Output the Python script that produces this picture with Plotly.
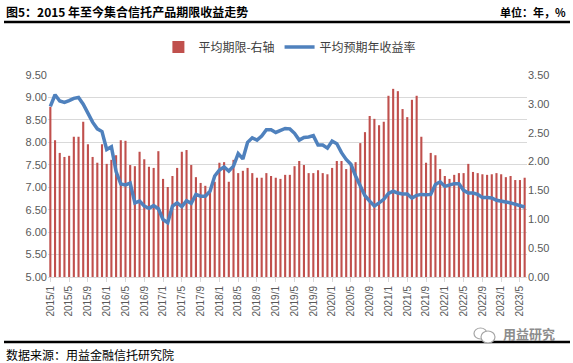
import plotly.graph_objects as go

# ---------------- data ----------------
start_year, start_month, n_months = 2015, 1, 102
months = []
y, m = start_year, start_month
for _ in range(n_months):
    months.append(f"{y}/{m}")
    m += 1
    if m > 12:
        m = 1
        y += 1

avg_term = [  # 平均期限 (年) - right axis
    2.95, 2.37, 2.15, 2.08, 2.10, 2.43, 2.43, 2.69, 2.30, 2.08, 1.98, 2.30,
    1.96, 2.03, 2.11, 2.37, 2.36, 1.94, 1.92, 2.17, 2.04, 1.91, 1.89, 2.18,
    1.70, 1.56, 1.75, 1.89, 2.17, 2.20, 1.94, 1.73, 1.63, 1.58, 1.46, 1.65,
    1.98, 1.99, 1.65, 2.03, 1.80, 1.84, 1.89, 1.80, 1.72, 1.72, 1.80, 1.75,
    1.72, 1.70, 1.77, 1.77, 1.92, 2.01, 1.94, 1.80, 1.80, 1.85, 1.80, 1.78,
    1.89, 2.01, 2.01, 1.87, 1.94, 1.99, 2.32, 2.51, 2.79, 2.74, 2.63, 2.69,
    3.14, 3.26, 3.22, 2.91, 2.77, 3.07, 3.14, 2.43, 1.98, 2.15, 2.11, 1.87,
    1.75, 1.70, 1.77, 1.80, 1.80, 1.96, 1.82, 1.80, 1.78, 1.77, 1.78, 1.80,
    1.78, 1.73, 1.75, 1.68, 1.68, 1.72,
]

avg_yield = [  # 平均预期年收益率 (%) - left axis
    8.80, 9.06, 8.92, 8.89, 8.93, 8.98, 9.00, 8.85, 8.65, 8.45, 8.30, 8.24,
    7.84, 7.90, 7.35, 7.07, 7.05, 7.09, 6.65, 6.69, 6.58, 6.53, 6.59, 6.52,
    6.28, 6.21, 6.58, 6.65, 6.57, 6.70, 6.64, 6.84, 6.80, 6.80, 6.91, 7.25,
    7.38, 7.45, 7.36, 7.47, 7.75, 7.63, 8.00, 8.10, 8.05, 8.14, 8.28, 8.28,
    8.22, 8.26, 8.31, 8.30, 8.20, 8.05, 8.11, 8.12, 8.15, 7.94, 7.94, 7.87,
    8.03, 7.97, 7.77, 7.62, 7.51, 7.25, 7.02, 6.81, 6.69, 6.58, 6.65, 6.73,
    6.86, 6.91, 6.87, 6.85, 6.85, 6.76, 6.82, 6.84, 6.83, 6.84, 7.06, 7.12,
    7.02, 7.05, 7.08, 7.08, 6.93, 6.87, 6.87, 6.84, 6.77, 6.77, 6.76, 6.71,
    6.68, 6.67, 6.65, 6.62, 6.60, 6.56,
]

x_ticks = months[::4]
left_ticks = [5.0, 5.5, 6.0, 6.5, 7.0, 7.5, 8.0, 8.5, 9.0, 9.5]
right_ticks = [0.0, 0.5, 1.0, 1.5, 2.0, 2.5, 3.0, 3.5]

title_text = "图5：2015 年至今集合信托产品期限收益走势"
unit_text = "单位：年，%"
source_text = "数据来源：用益金融信托研究院"
bar_name = "平均期限-右轴"
line_name = "平均预期年收益率"

# ---------------- layout helpers ----------------
W, H = 573, 363
L, R, T, B = 48, 46, 75, 86
PW, PH = W - L - R, H - T - B


def px(x):
    return (x - L) / PW


def py(y):
    return (H - B - y) / PH


CJK = "Noto Sans CJK SC"
NUM = "Liberation Sans, Noto Sans CJK SC"
GREY = "#595959"

fig = go.Figure()

# bars on the main (right-side) axis so the line overlays them
fig.add_trace(go.Bar(
    x=months, y=avg_term, name=bar_name, yaxis="y",
    marker=dict(color="#C0504D", line=dict(width=0)),
))
fig.add_trace(go.Scatter(
    x=months, y=avg_yield, name=line_name, yaxis="y2", mode="lines",
    line=dict(color="#4F81BD", width=3.5),
))

fig.update_layout(
    width=W, height=H,
    margin=dict(l=L, r=R, t=T, b=B, pad=0),
    paper_bgcolor="white", plot_bgcolor="white",
    bargap=0.55,
    showlegend=True,
    legend=dict(
        orientation="h", x=0.505, xanchor="center", y=py(47), yanchor="middle",
        font=dict(family=CJK, size=12, color="#404040"),
        itemwidth=30, tracegroupgap=0,
        traceorder="normal",
    ),
    xaxis=dict(
        type="category", categoryorder="array", categoryarray=months,
        tickmode="array", tickvals=x_ticks, ticktext=x_ticks,
        tickangle=-90, tickfont=dict(family=NUM, size=10, color=GREY),
        showgrid=False, showline=True, linecolor="#D9D9D9", linewidth=1,
        ticks="outside", ticklen=4, tickcolor="#D9D9D9",
        range=[-0.5, n_months - 0.5],
    ),
    yaxis=dict(
        side="right", range=[0, 3.5], tickmode="array", tickvals=right_ticks,
        tickformat=".2f", tickfont=dict(family=NUM, size=11, color=GREY),
        showgrid=False, zeroline=False, showline=False, ticks="",
    ),
    yaxis2=dict(
        overlaying="y", side="left", range=[5, 9.5], tickmode="array",
        tickvals=left_ticks, tickformat=".2f",
        tickfont=dict(family=NUM, size=11, color=GREY),
        showgrid=True, gridcolor="#D9D9D9", gridwidth=1,
        zeroline=False, showline=False, ticks="",
    ),
    font=dict(family=CJK),
)

annotations = [
    dict(text=f"<b>{title_text}</b>", x=px(4), y=py(12), xanchor="left",
         yanchor="middle", font=dict(family=CJK, size=12, color="black")),
    dict(text=f"<b>{unit_text}</b>", x=px(568), y=py(12), xanchor="right",
         yanchor="middle", font=dict(family=CJK, size=11, color="black")),
    dict(text=source_text, x=px(4), y=py(354), xanchor="left",
         yanchor="middle", font=dict(family=CJK, size=12, color="black")),
    dict(text="<b>用益研究</b>", x=px(557), y=py(333), xanchor="right",
         yanchor="middle", font=dict(family=CJK, size=13, color="#8C8C8C")),
]
for a in annotations:
    a.update(xref="paper", yref="paper", showarrow=False)
fig.update_layout(annotations=annotations)

shapes = [
    dict(type="line", x0=px(4), x1=px(570), y0=py(22), y1=py(22),
         line=dict(color="black", width=2.5)),
    dict(type="line", x0=px(4), x1=px(570), y0=py(342), y1=py(342),
         line=dict(color="black", width=2.5)),
    dict(type="circle", x0=px(474), x1=px(487), y0=py(339), y1=py(328),
         line=dict(color="#A6A6A6", width=1.2)),
    dict(type="circle", x0=px(481), x1=px(495), y0=py(343), y1=py(331),
         line=dict(color="#A6A6A6", width=1.2), fillcolor="white"),
]
for s in shapes:
    s.update(xref="paper", yref="paper")
fig.update_layout(shapes=shapes)

fig.write_html(
    "out.html",
    config={"displayModeBar": False},
    post_script="document.body.style.margin='0';document.body.style.padding='0';",
)
